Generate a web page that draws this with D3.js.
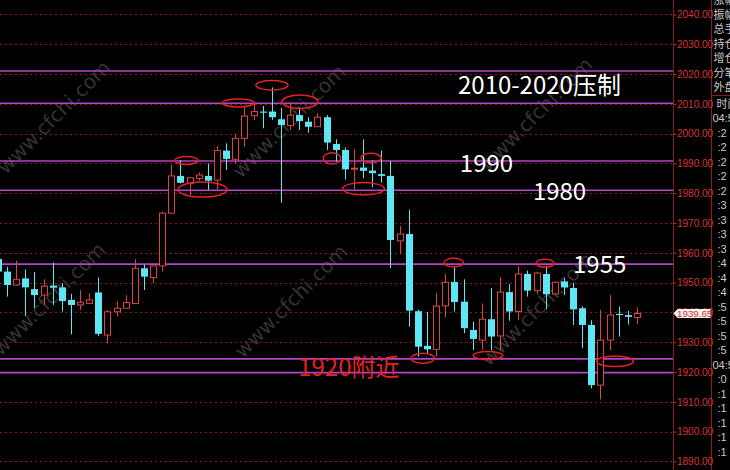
<!DOCTYPE html>
<html><head><meta charset="utf-8">
<script src="https://cdn.jsdelivr.net/npm/d3@7"></script>
<style>html,body{margin:0;padding:0;background:#000;overflow:hidden}</style>
</head><body><svg id="c" width="730" height="470"></svg>
<script>
// ---- data ----
const bars = d3.range(71);
const opens  = [1957.9,1953.7,1949.2,1951.4,1947.8,1945.8,1949.0,1948.4,1944.2,1942.5,1943.0,1946.7,1932.4,1940.2,1941.4,1943.0,1954.8,1951.7,1955.6,1973.3,1985.8,1983.3,1985.0,1985.8,1984.4,1994.3,1991.4,1998.4,2006.0,2007.4,2007.4,2004.8,2002.7,2006.2,2004.0,2002.3,2005.5,1996.5,1994.5,1988.4,1988.6,1987.6,1986.4,1985.8,1964.0,1966.3,1940.4,1928.8,1927.6,1942.2,1950.2,1943.6,1934.1,1930.7,1937.7,1932.1,1946.8,1940.3,1952.9,1947.3,1952.9,1946.2,1950.4,1948.2,1941.4,1935.8,1915.6,1930.7,1939.5,1939.1,1938.3];
const highs  = [1960.0,1955.3,1957.4,1954.4,1953.5,1951.1,1956.7,1949.8,1946.2,1947.5,1946.4,1951.7,1940.8,1943.6,1945.8,1957.9,1956.0,1955.6,1973.8,1989.5,1991.1,1985.2,1987.0,1990.0,1995.8,1996.7,1999.9,2009.0,2010.4,2009.3,2015.5,2008.6,2010.4,2008.5,2005.5,2006.8,2006.2,1998.1,1995.4,1994.7,1998.1,1991.0,1994.3,1990.8,1969.0,1974.4,1940.9,1940.2,1946.6,1952.9,1955.4,1951.1,1936.9,1943.0,1948.1,1951.8,1949.5,1955.6,1954.0,1953.7,1955.6,1950.4,1951.6,1950.0,1942.0,1937.4,1940.9,1945.8,1941.9,1940.5,1941.7];
const lows   = [1953.0,1945.3,1949.0,1938.8,1941.4,1942.5,1942.5,1940.3,1932.6,1940.8,1943.0,1932.1,1929.6,1938.6,1941.4,1943.0,1947.5,1949.8,1953.7,1973.3,1983.3,1979.4,1984.2,1981.1,1981.1,1987.8,1990.0,1995.6,2004.6,2001.8,2004.6,1976.8,2001.2,2001.2,2000.3,2002.3,1994.5,1990.6,1984.6,1981.3,1985.0,1982.0,1983.5,1954.8,1959.6,1935.2,1925.1,1926.0,1925.1,1938.3,1940.3,1933.0,1927.4,1927.4,1927.4,1927.4,1937.2,1937.4,1945.3,1946.2,1941.0,1945.8,1945.8,1935.8,1928.0,1914.5,1910.8,1927.3,1931.9,1935.9,1936.1];
const closes = [1953.7,1949.2,1951.1,1948.4,1945.8,1948.8,1948.3,1943.8,1942.5,1943.4,1944.2,1932.8,1940.2,1941.4,1943.3,1954.8,1952.0,1955.6,1973.3,1985.8,1983.5,1985.2,1986.1,1984.2,1994.3,1991.5,1998.4,2005.9,2007.4,2007.3,2005.5,2002.9,2006.2,2004.2,2002.3,2005.5,1997.0,1994.5,1988.0,1988.4,1987.5,1986.7,1985.8,1964.3,1966.3,1940.6,1928.5,1927.6,1942.1,1950.1,1943.5,1934.7,1931.1,1937.7,1931.9,1946.8,1940.3,1952.9,1947.3,1953.2,1946.1,1950.1,1948.4,1941.0,1935.8,1915.6,1930.7,1939.1,1939.1,1938.5,1939.65];
const yTicks = [1890,1900,1910,1920,1930,1940,1950,1960,1970,1980,1990,2000,2010,2020,2030,2040];
const levels = [2021, 2010.2, 1990.8, 1981, 1956.2, 1924.4, 1919.8];
const lastPrice = 1939.65;
const noteTexts = ["2010-2020压制","1990","1980","1955","1920附近"];
const noteAt    = [[50.4,2013.2],[50.6,1987.0],[58.6,1977.6],[63.0,1953.2],[32.9,1918.8]];
const noteRed   = [false,false,false,false,true];
const ringAt = [[20.66,1991.0],[22.41,1981.2],[26.33,2010.3],[30.02,2016.2],[33.09,2010.7],[36.6,1991.7],[40.87,1991.8],[40.05,1981.5],[46.53,1924.6],[49.93,1956.7],[53.68,1925.5],[59.93,1956.5],[67.6,1923.6]];
const ringSize = [[11.5,4],[24.5,7.5],[15.7,4],[16,4.7],[18,6.7],[8.7,5.7],[10,4.7],[20.8,6.2],[11.7,5],[9.8,4.3],[14.7,4],[9,4],[18.3,5.3]];
const sideTop = ["涨幅","振幅","总手","持仓","增仓","分笔","外盘"];
const sideTimes = [":2",":2",":2",":2",":2",":3",":3",":3",":3",":4",":4",":4",":5",":5",":5",":5","04:5",":0",":1",":1",":1",":1",":1"];
const watermarks = [[55,118],[50,300],[290,122],[292,302],[537,115],[538,310]];

// ---- scales ----
const W = 730, H = 470, axisX = 673.5, sideX = 711.5;
const x = d3.scaleLinear().domain([0, 70]).range([-2.13, 636.97]);
const y = d3.scaleLinear().domain([1890, 2040]).range([461.4, 14.4]);
const CYAN = "#5fe6f4", RED = "#dc4444";

const svg = d3.select("#c");
svg.append("rect").attr("width", W).attr("height", H).attr("fill", "#000");

// watermark
svg.append("g").selectAll("text").data(watermarks).join("text")
  .attr("transform", d => `translate(${d[0]},${d[1]}) rotate(-45)`)
  .attr("text-anchor", "middle").attr("dominant-baseline", "middle")
  .attr("font-family", "DejaVu Sans, sans-serif").attr("font-size", 20)
  .attr("fill", "#333").text("www.cfchi.com");

// dashed grid
svg.append("g").selectAll("line").data(yTicks).join("line")
  .attr("x1", 0).attr("x2", axisX).attr("y1", d => Math.round(y(d)) + 0.5).attr("y2", d => Math.round(y(d)) + 0.5)
  .attr("stroke", "#8a1a1a").attr("stroke-dasharray", "2,3");

// magenta levels
svg.append("g").selectAll("line").data(levels).join("line")
  .attr("x1", 0).attr("x2", axisX).attr("y1", d => y(d)).attr("y2", d => y(d))
  .attr("stroke", "#b444c8").attr("stroke-width", 1.6);

// candles
const cg = svg.append("g");
bars.forEach(i => {
  const o = opens[i], c = closes[i], h = highs[i], l = lows[i];
  const up = c >= o;
  const cx = Math.round(x(i)) + 0.5;
  const col = up ? RED : CYAN;
  cg.append("line").attr("x1", cx).attr("x2", cx).attr("y1", y(h)).attr("y2", y(l)).attr("stroke", col).attr("stroke-width", 1);
  const top = y(Math.max(o, c)), bot = y(Math.min(o, c));
  if (up) {
    cg.append("rect").attr("x", cx - 3).attr("width", 6).attr("y", top).attr("height", Math.max(bot - top, 1))
      .attr("fill", "#000").attr("stroke", col).attr("stroke-width", 1);
  } else {
    cg.append("rect").attr("x", cx - 3.5).attr("width", 7).attr("y", top).attr("height", Math.max(bot - top, 1.2))
      .attr("fill", col);
  }
});

// rings
svg.append("g").selectAll("ellipse").data(ringAt).join("ellipse")
  .attr("cx", d => x(d[0])).attr("cy", d => y(d[1]))
  .attr("rx", (d, k) => ringSize[k][0]).attr("ry", (d, k) => ringSize[k][1])
  .attr("fill", "none").attr("stroke", "#e42222").attr("stroke-width", 1.5);

// notes
svg.append("g").selectAll("text").data(noteTexts).join("text")
  .attr("x", (d, k) => x(noteAt[k][0])).attr("y", (d, k) => y(noteAt[k][1]))
  .attr("font-family", "Noto Sans CJK SC, sans-serif").attr("font-size", 24)
  .attr("fill", (d, k) => noteRed[k] ? "#e42222" : "#fff").text(d => d);

// axis
svg.append("line").attr("x1", axisX).attr("x2", axisX).attr("y1", 0).attr("y2", H).attr("stroke", "#8a1c1c");
svg.append("line").attr("x1", sideX).attr("x2", sideX).attr("y1", 0).attr("y2", H).attr("stroke", "#8a1c1c");
const ax = svg.append("g").attr("transform", `translate(${axisX},0)`)
  .call(d3.axisRight(y).tickValues(yTicks).tickFormat(d3.format(".2f")).tickSize(3).tickPadding(0.5));
ax.select(".domain").remove();
ax.selectAll(".tick line").attr("stroke", "#c03030");
ax.selectAll(".tick text").attr("fill", "#d83636").attr("font-family", "Liberation Sans, Arial, sans-serif").attr("font-size", 10);

// last price marker
const ly = y(lastPrice);
svg.append("path").attr("d", `M${axisX},${ly} L${axisX+4},${ly-4.5} L${sideX-1},${ly-4.5} L${sideX-1},${ly+4.5} L${axisX+4},${ly+4.5} Z`)
  .attr("fill", "#f4f0f0");
svg.append("text").attr("x", axisX + 3.5).attr("y", ly).attr("dy", "0.35em")
  .attr("font-family", "Liberation Sans, Arial, sans-serif").attr("font-size", 9.8).attr("fill", "#d03434")
  .text(d3.format(".2f")(lastPrice));

// side panel
const sp = svg.append("g").attr("font-family", "Noto Sans CJK SC, sans-serif").attr("font-size", 11).attr("fill", "#c8c8c8");
sp.selectAll("text.t").data(sideTop).join("text").attr("class", "t")
  .attr("x", sideX + 2).attr("y", (d, k) => 0.5 + k * 14.5).attr("dy", "0.35em").text(d => d);
svg.append("line").attr("x1", sideX).attr("x2", W).attr("y1", 95.5).attr("y2", 95.5).attr("stroke", "#8a1c1c");
sp.append("text").attr("x", sideX + 5).attr("y", 104).attr("dy", "0.35em").text("时间");
sp.append("text").attr("x", sideX + 1).attr("y", 118).attr("dy", "0.35em").attr("font-family", "Liberation Sans, Arial, sans-serif").text("04:5");
sp.selectAll("text.r").data(sideTimes).join("text").attr("class", "r")
  .attr("font-family", "Liberation Sans, Arial, sans-serif")
  .attr("x", d => d.length > 2 ? sideX + 1 : sideX + 6).attr("y", (d, k) => 133 + k * 14.5).attr("dy", "0.35em").text(d => d);
</script></body></html>
